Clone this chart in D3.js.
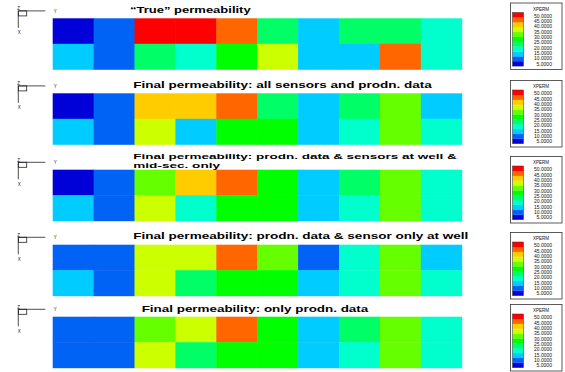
<!DOCTYPE html>
<html>
<head>
<meta charset="utf-8">
<script src="https://cdn.jsdelivr.net/npm/d3@7"></script>
<style>
  html, body { margin: 0; padding: 0; background: #fff; }
  svg { display: block; }
</style>
</head>
<body>
<svg id="chart" width="565" height="372"></svg>
<script>
// Grid blocks along the section (10 columns) and two layers
const columns = d3.range(1, 11).map(String);
const layers = ["upper", "lower"];

// Permeability class bounds and their colours (legend, low -> high)
const thresholds = [5, 10, 15, 20, 25, 30, 35, 40, 45, 50];
const palette = ["#0000d8", "#0063f5", "#00ccff", "#00ffcc", "#00ff66", "#00ff00",
                 "#66ff00", "#ccff00", "#ffcc00", "#ff6600", "#ff0000"];
const legendTicks = [50, 45, 40, 35, 30, 25, 20, 15, 10, 5];

const titles = [
  ["\u201cTrue\u201d permeability"],
  ["Final permeability: all sensors and prodn. data"],
  ["Final permeability: prodn. data & sensors at well &", "mid-sec. only"],
  ["Final permeability: prodn. data & sensor only at well"],
  ["Final permeability: only prodn. data"]
];

// Permeability per block, [upper layer, lower layer]
const permTrue = [
  [3, 8, 55, 55, 48, 22, 12, 22, 22, 18],
  [12, 8, 22, 18, 28, 38, 12, 12, 48, 18]
];
const permAllSensors = [
  [3, 8, 42, 42, 48, 22, 12, 22, 32, 12],
  [12, 8, 38, 12, 28, 28, 12, 18, 32, 18]
];
const permWellMid = [
  [3, 8, 32, 42, 48, 28, 12, 22, 32, 18],
  [12, 8, 38, 18, 28, 28, 12, 18, 32, 18]
];
const permWellOnly = [
  [8, 8, 38, 38, 48, 32, 8, 18, 32, 12],
  [12, 8, 38, 22, 28, 28, 12, 18, 32, 18]
];
const permProdOnly = [
  [8, 8, 32, 38, 48, 28, 12, 22, 32, 18],
  [8, 8, 38, 22, 28, 28, 12, 18, 32, 18]
];
const fields = [permTrue, permAllSensors, permWellMid, permWellOnly, permProdOnly];

// Layout of the five stacked panels
const gridTop = [18.3, 93.3, 169.7, 244.7, 316.7];
const gridH = 51;
const titleX = [130, 133.3, 133.3, 133.3, 141.7];
const titleEnd = [[250.7], [431.7], [456.7, 220], [468.3], [368.3]];
const titleBase = [[13.3], [88.3], [159.4, 168.2], [239.3], [312.3]];
const titleSize = [8.6, 8.6, 7.5, 8.6, 8.6];
const legendTop = [3, 80.5, 156.5, 232.5, 304.5];
const legendH = 66.5;

const svg = d3.select("#chart");
const color = d3.scaleThreshold().domain(thresholds).range(palette);
const x = d3.scaleBand().domain(columns).range([52.7, 461.7]);
const y = d3.scaleBand().domain(layers).range([0, gridH]);

fields.forEach((field, p) => {
  const g = svg.append("g").attr("transform", `translate(0,${gridTop[p]})`);

  // blocks
  const cells = [];
  layers.forEach((layer, r) => columns.forEach((c, i) =>
    cells.push({ layer, col: c, v: field[r][i] })));
  g.selectAll("rect.cell").data(cells).join("rect")
    .attr("class", "cell")
    .attr("x", d => x(d.col))
    .attr("y", d => y(d.layer))
    .attr("width", x.bandwidth() + 0.5)
    .attr("height", y.bandwidth() + 0.5)
    .attr("fill", d => color(d.v));

  // orientation glyph
  const o = g.append("g").attr("transform", "translate(18.3,-7.4)")
    .attr("stroke", "#222").attr("stroke-width", 0.8).attr("fill", "none");
  o.append("line").attr("x1", 0).attr("y1", 0).attr("x2", 27).attr("y2", 0);
  o.append("line").attr("x1", 0).attr("y1", 0).attr("x2", 0).attr("y2", 17);
  o.append("rect").attr("x", 0).attr("y", 0).attr("width", 8.4).attr("height", 5);
  const ot = g.append("g").attr("transform", "translate(18.3,-7.4)")
    .attr("font-family", "Liberation Sans, Arial, sans-serif")
    .attr("font-size", 4.5).attr("fill", "#222");
  ot.append("text").attr("x", 35.5).attr("y", 1.6).text("Y");
  ot.append("text").attr("x", -0.5).attr("y", 23.5).text("X");
  ot.append("text").attr("x", -1).attr("y", -0.8).text("Z");

  // title
  titles[p].forEach((line, k) => {
    svg.append("text")
      .attr("x", titleX[p]).attr("y", titleBase[p][k])
      .attr("font-family", "Liberation Sans, Arial, sans-serif")
      .attr("font-weight", "bold").attr("font-size", titleSize[p])
      .attr("fill", "#000")
      .attr("textLength", titleEnd[p][k] - titleX[p])
      .attr("lengthAdjust", "spacingAndGlyphs")
      .text(line);
  });

  // colour legend
  const lg = svg.append("g").attr("transform", `translate(510.5,${legendTop[p]})`);
  lg.append("rect").attr("x", 0).attr("y", 0).attr("width", 51.5).attr("height", legendH)
    .attr("fill", "#fff").attr("stroke", "#333").attr("stroke-width", 0.8);
  const swTop = 9.5, swBot = legendH - 3.5;
  const ls = d3.scaleBand().domain(d3.range(palette.length).reverse())
    .range([swTop, swBot]);
  lg.selectAll("rect.sw").data(d3.range(palette.length)).join("rect")
    .attr("class", "sw")
    .attr("x", 2).attr("y", i => ls(i)).attr("width", 11)
    .attr("height", ls.bandwidth() + 0.2)
    .attr("fill", i => palette[i]);
  lg.append("rect").attr("x", 2).attr("y", swTop).attr("width", 11)
    .attr("height", swBot - swTop).attr("fill", "none")
    .attr("stroke", "#333").attr("stroke-width", 0.5);
  const ly = d3.scaleLinear().domain([50, 5]).range([swTop + 3.5, swBot - 2]);
  lg.append("text").attr("x", 22.5).attr("y", 7.5)
    .attr("font-family", "Liberation Sans, Arial, sans-serif")
    .attr("font-size", 5.2).attr("fill", "#111")
    .attr("textLength", 16).attr("lengthAdjust", "spacingAndGlyphs")
    .text("XPERM");
  lg.selectAll("text.tk").data(legendTicks).join("text")
    .attr("class", "tk")
    .attr("x", 41.5).attr("y", d => ly(d) + 1.8)
    .attr("text-anchor", "end")
    .attr("font-family", "Liberation Sans, Arial, sans-serif")
    .attr("font-size", 5.2).attr("fill", "#111")
    .attr("textLength", d => d >= 10 ? 18 : 15.5)
    .attr("lengthAdjust", "spacingAndGlyphs")
    .text(d => d.toFixed(4));
});
</script>
</body>
</html>
